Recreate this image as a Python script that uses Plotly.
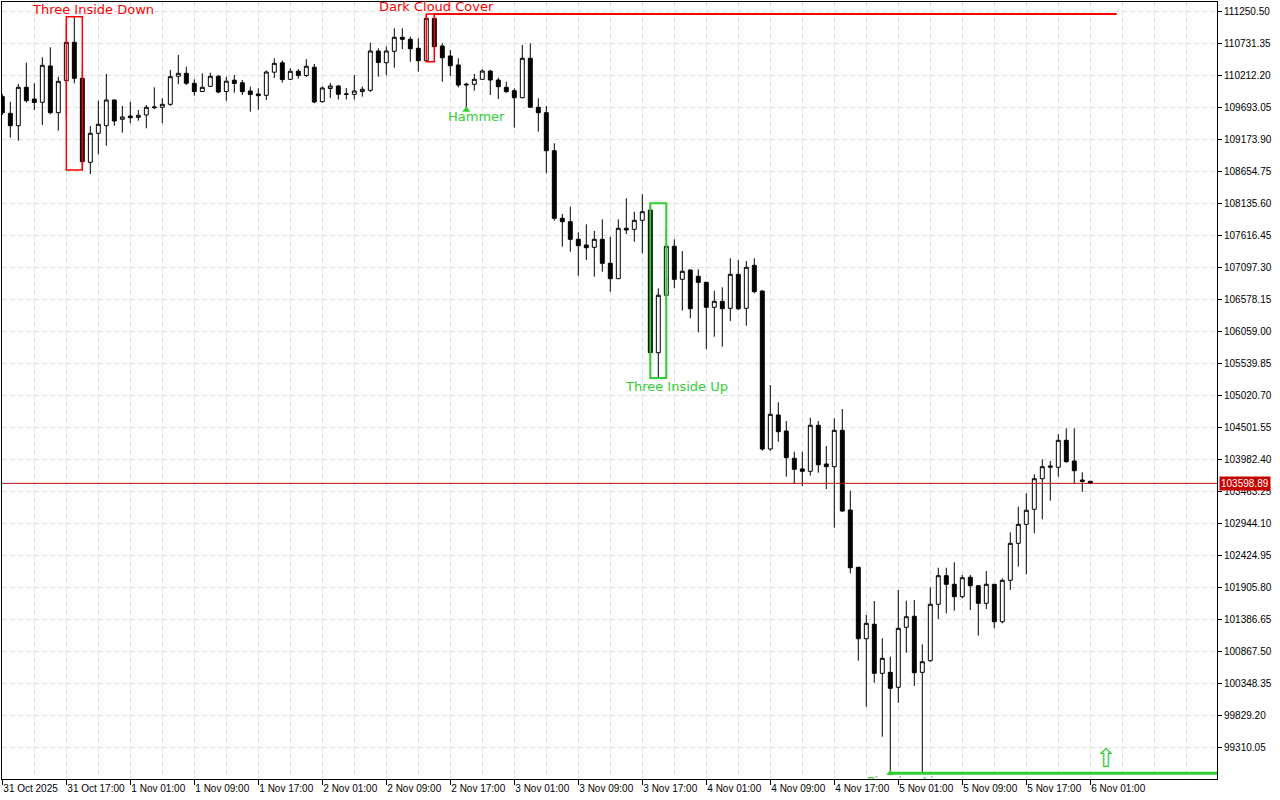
import pandas as pd
import plotly.graph_objects as go

# H1 bars from 31 Oct 2025 09:00 to 6 Nov 2025 01:00
opens = [109872, 109602, 109401, 110024, 109834, 109781, 110370, 109612, 110131, 110754,
         110170, 108807, 109278, 109401, 109818, 109505, 109558, 109537, 109575, 109693,
         109700, 109748, 110203, 110251, 110089, 109956, 110040, 110203, 109956, 110139,
         110097, 109964, 109915, 109894, 110269, 110421, 110154, 110285, 110215, 110350,
         109790, 110005, 110045, 109910, 109910, 109956, 109975, 110613, 110423, 110608,
         110835, 110803, 110657, 110456, 111143, 110694, 110532, 110386, 110061, 110073,
         110154, 110288, 110142, 110024, 109969, 109855, 110495, 109700, 109612, 108995,
         107899, 107844, 107558, 107466, 107428, 107558, 107169, 106919, 107737, 107720,
         107866, 108033, 105718, 106650, 107445, 106909, 107060, 106958, 106860, 106455,
         106552, 106439, 106990, 106439, 107136, 106719, 104156, 104708, 104448, 104005,
         103832, 103794, 104541, 103913, 103869, 104459, 103166, 102237, 101078, 101312,
         100517, 100533, 100290, 101263, 101442, 100533, 100722, 101637, 102101, 101961,
         101760, 102075, 101938, 101653, 101961, 101354, 102026, 102626, 102934, 103178,
         103674, 103859, 103859, 104297, 103961, 103653, 103632]
highs = [109915, 109790, 110078, 110423, 110089, 110511, 110673, 110196, 111035, 111169,
         110288, 109396, 109807, 110240, 109825, 109721, 109790, 109656, 109737, 110024,
         109846, 110305, 110548, 110358, 110154, 110251, 110261, 110224, 110196, 110224,
         110142, 110034, 110008, 110297, 110495, 110459, 110332, 110321, 110480, 110402,
         110037, 110094, 110061, 110013, 110224, 110037, 110746, 110657, 110683, 110981,
         110981, 110845, 110819, 111213, 111213, 110738, 110629, 110495, 110099, 110240,
         110316, 110305, 110180, 110115, 110008, 110710, 110738, 109846, 109721, 109116,
         107969, 108087, 107672, 107801, 107693, 107883, 107600, 107883, 108223, 108006,
         108288, 108142, 106763, 107746, 107558, 107368, 107070, 107071, 106870, 106724,
         106779, 107250, 107222, 107206, 107250, 106730, 105194, 104914, 104610, 104112,
         104112, 104664, 104610, 104205, 104654, 104805, 103480, 102245, 101463, 101690,
         101085, 100786, 101869, 101695, 101706, 100988, 101912, 102230, 102230, 102318,
         102112, 102112, 101945, 102177, 101968, 102058, 102805, 103220, 103437, 103746,
         103989, 103961, 104399, 104492, 104492, 103778, 103640]
lows = [109575, 109206, 109158, 109774, 109656, 109412, 109586, 109320, 109547, 110089,
        108682, 108617, 108937, 109077, 109401, 109288, 109440, 109482, 109359, 109667,
        109440, 109721, 110073, 110061, 109888, 109950, 110034, 109927, 109807, 109936,
        109899, 109628, 109661, 109818, 110175, 110099, 110142, 110167, 110191, 109766,
        109777, 109850, 109826, 109826, 109826, 109872, 109948, 110196, 110219, 110342,
        110645, 110439, 110277, 110439, 110670, 110115, 110207, 110024, 109656, 109969,
        110142, 109899, 109834, 109936, 109369, 109846, 109696, 109304, 108629, 107860,
        107438, 107357, 106968, 107222, 106951, 107032, 106708, 106914, 107644, 107519,
        107331, 105519, 105308, 106481, 106763, 106400, 106276, 106049, 105774, 105978,
        105816, 106233, 106411, 106156, 106682, 104128, 104128, 104274, 103707, 103588,
        103556, 103723, 103772, 103507, 102879, 103139, 102139, 100722, 99975, 100365,
        99489, 98895, 100040, 100851, 100311, 98905, 100705, 101398, 101491, 101533,
        101734, 101544, 101127, 101560, 101247, 101328, 101869, 102247, 102123, 102788,
        103016, 103317, 103707, 103934, 103600, 103463, 103598.89]
closes = [109612, 109401, 110024, 109807, 109777, 110381, 109612, 110121, 110754, 110170,
          108817, 109278, 109424, 109818, 109477, 109542, 109531, 109570, 109700, 109704,
          109748, 110196, 110251, 110089, 109956, 110024, 110203, 109948, 110123, 110086,
          109953, 109906, 109888, 110272, 110413, 110149, 110284, 110215, 110366, 109786,
          110013, 110045, 109912, 109915, 109964, 109992, 110613, 110426, 110613, 110835,
          110803, 110650, 110456, 111143, 110683, 110504, 110374, 110061, 110073, 110154,
          110288, 110142, 110034, 109953, 109855, 110495, 109700, 109612, 108995, 107899,
          107844, 107558, 107454, 107422, 107558, 107169, 106919, 107737, 107709, 107866,
          108006, 105718, 106650, 107445, 106909, 107039, 106432, 106860, 106455, 106552,
          106432, 106990, 106432, 107104, 106708, 104156, 104719, 104437, 104015, 103827,
          103794, 104541, 103901, 103869, 104459, 103150, 102230, 101078, 101328, 100517,
          100760, 100274, 101247, 101435, 100527, 100705, 101637, 102101, 101961, 101760,
          102068, 101938, 101653, 101961, 101354, 102026, 102626, 102934, 103162, 103674,
          103869, 103880, 104297, 103950, 103804, 103632, 103598.89]

time_labels = ['31 Oct 2025', '31 Oct 17:00', '1 Nov 01:00', '1 Nov 09:00', '1 Nov 17:00',
               '2 Nov 01:00', '2 Nov 09:00', '2 Nov 17:00', '3 Nov 01:00', '3 Nov 09:00',
               '3 Nov 17:00', '4 Nov 01:00', '4 Nov 09:00', '4 Nov 17:00', '5 Nov 01:00',
               '5 Nov 09:00', '5 Nov 17:00', '6 Nov 01:00']
last_price = 103598.89

bar_times = pd.date_range('2025-10-31 09:00', periods=len(opens), freq='h')
hour = pd.Timedelta(hours=1)
x_start = bar_times[0] - 0.04 * hour
x_end = bar_times[0] + 151.84 * hour

red = '#ff0000'
green = '#32cd32'
grid = '#dddddd'
label_font = dict(family='DejaVu Sans', size=13)
axis_font = dict(family='Liberation Sans', size=10, color='black')

fig = go.Figure()

fig.add_trace(go.Candlestick(x=bar_times, open=opens, high=highs, low=lows, close=closes,
                             increasing=dict(line=dict(color='black', width=1), fillcolor='white'),
                             decreasing=dict(line=dict(color='black', width=1), fillcolor='black'),
                             whiskerwidth=0, hoverinfo='skip', showlegend=False))

# pattern arrows (hammer, piercing line) + clipped label at the bottom edge
fig.add_trace(go.Scatter(x=[bar_times[58], bar_times[111]], y=[lows[58], lows[111]],
                         mode='markers', marker=dict(symbol='triangle-up', size=7, color=green),
                         cliponaxis=True, hoverinfo='skip', showlegend=False))
fig.add_trace(go.Scatter(x=[bar_times[111] + 2.25 * hour], y=[lows[111] - 45],
                         mode='text', text=['Piercing Line'], textposition='bottom center',
                         textfont=dict(family='DejaVu Sans', size=13, color=green),
                         cliponaxis=True, hoverinfo='skip', showlegend=False))

# Three Inside Down
fig.add_shape(type='rect', x0=bar_times[8], x1=bar_times[10],
              y0=min(lows[8:11]), y1=max(highs[8:11]), line=dict(color=red, width=1.5))
fig.add_annotation(x=bar_times[9], y=highs[9], text='Three Inside Down', showarrow=False,
                   xshift=19, yshift=7, font=dict(label_font, color=red))

# Dark Cloud Cover
fig.add_shape(type='rect', x0=bar_times[53], x1=bar_times[54],
              y0=lows[53], y1=highs[54], line=dict(color=red, width=1.5))
fig.add_shape(type='line', x0=bar_times[54], x1=bar_times[-1] + 3.3 * hour,
              y0=highs[54], y1=highs[54], line=dict(color=red, width=2))
fig.add_annotation(x=bar_times[54], y=highs[54], text='Dark Cloud Cover', showarrow=False,
                   xshift=2, yshift=8, font=dict(label_font, color=red))

# Hammer
fig.add_annotation(x=bar_times[58], y=lows[58], text='Hammer', showarrow=False,
                   xshift=10, yshift=-7, font=dict(label_font, color=green))

# Three Inside Up
fig.add_shape(type='rect', x0=bar_times[81], x1=bar_times[83],
              y0=lows[82], y1=highs[81], line=dict(color=green, width=2))
fig.add_annotation(x=bar_times[82], y=lows[82], text='Three Inside Up', showarrow=False,
                   xshift=18, yshift=-8, font=dict(label_font, color=green))

# support from the piercing line low
fig.add_shape(type='line', x0=bar_times[111], x1=x_end, y0=lows[111], y1=lows[111],
              line=dict(color=green, width=3))
fig.add_annotation(x=bar_times[-1] + 2 * hour, y=99143, text='⇧', showarrow=False,
                   font=dict(family='DejaVu Sans', size=26, color=green))

# current price
fig.add_shape(type='line', xref='paper', x0=0, x1=1, y0=last_price, y1=last_price,
              line=dict(color='#b01010', width=1))
fig.add_annotation(xref='paper', x=1, y=last_price, text='%.2f' % last_price, showarrow=False,
                   xanchor='left', xshift=2, bgcolor='#c80000', borderpad=1,
                   font=dict(family='Liberation Sans', size=10, color='white'))

fig.update_xaxes(type='date', range=[x_start, x_end], automargin=False,
                 tickmode='array', tickvals=bar_times[::8], ticktext=time_labels, tickangle=0,
                 ticks='outside', ticklen=5, tickcolor='black', tickfont=axis_font,
                 ticklabelposition='outside right',
                 showline=True, linecolor='black', linewidth=1, mirror=True,
                 showgrid=True, gridcolor=grid, griddash='5px,3px', gridwidth=1,
                 minor=dict(tick0=bar_times[0], dtick=4 * 3600 * 1000, showgrid=True,
                            gridcolor=grid, griddash='5px,3px'),
                 rangeslider=dict(visible=False), fixedrange=True)
fig.update_yaxes(side='right', range=[98802.5, 111407.9], automargin=False,
                 tick0=99310.05, dtick=519.15, tickformat='.2f',
                 ticks='outside', ticklen=4, tickcolor='black', tickfont=axis_font,
                 showline=True, linecolor='black', linewidth=1, mirror=True,
                 showgrid=True, gridcolor=grid, griddash='5px,3px', gridwidth=1,
                 zeroline=False, fixedrange=True)

fig.update_layout(width=1280, height=800,
                  margin=dict(l=2, r=63, t=2, b=21),
                  paper_bgcolor='white', plot_bgcolor='white',
                  boxgap=0.3, showlegend=False)

# the page keeps the default 8px body margin otherwise
fig.write_html('out.html', config={'displayModeBar': False},
               post_script="document.body.style.margin='0';document.body.style.overflow='hidden';")
